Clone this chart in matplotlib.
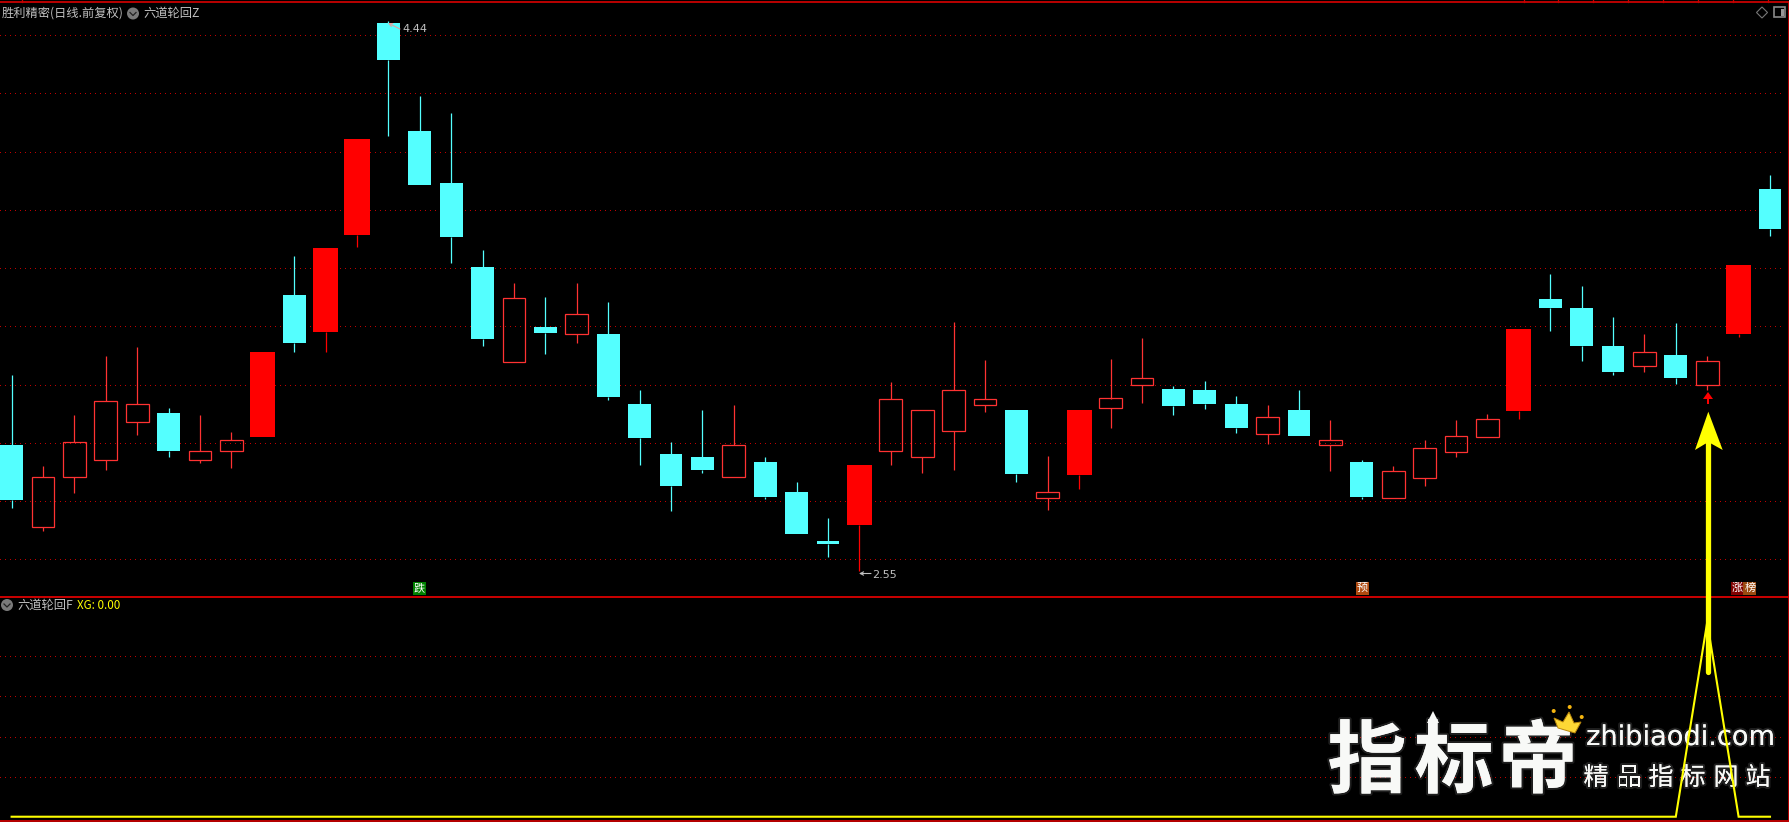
import matplotlib
matplotlib.use("Agg")
import matplotlib.pyplot as plt
from matplotlib.patches import Rectangle, Polygon, Circle
import matplotlib.patheffects as pe

plt.rcParams['font.family'] = ['Noto Sans CJK SC', 'DejaVu Sans']

# ---- data ----
highs = [3.221,2.911,3.087,3.287,3.319,3.111,3.087,3.028,3.303,3.632,3.660,4.032,4.440,4.181,4.123,3.652,3.538,3.491,3.538,3.472,
         3.170,2.993,3.103,3.119,2.942,2.856,2.730,2.915,3.197,3.103,3.405,3.275,3.103,2.946,3.103,3.279,3.350,3.185,3.201,3.150,
         3.119,3.170,3.068,2.930,2.911,2.999,3.068,3.089,3.381,3.570,3.530,3.421,3.362,3.401,3.287,3.601,3.911]
lows = [2.766,2.687,2.817,2.895,3.017,2.942,2.919,2.903,3.009,3.303,3.303,3.664,4.044,3.875,3.609,3.323,3.268,3.295,3.334,3.138,
        2.915,2.754,2.887,2.872,2.797,2.675,2.597,2.550,2.915,2.887,2.895,3.095,2.856,2.758,2.832,3.040,3.126,3.087,3.107,3.024,
        2.985,3.013,2.893,2.797,2.801,2.843,2.942,3.011,3.073,3.374,3.272,3.221,3.234,3.193,3.171,3.354,3.699]
body_tops = [2.981,2.872,2.993,3.134,3.123,3.091,2.962,3.001,3.303,3.499,3.660,4.032,4.432,4.060,3.883,3.593,3.487,3.389,3.432,3.362,
             3.123,2.950,2.942,2.981,2.923,2.821,2.652,2.915,3.142,3.103,3.170,3.142,3.103,2.821,3.103,3.142,3.213,3.174,3.170,3.123,
             3.079,3.103,3.001,2.923,2.892,2.971,3.012,3.070,3.381,3.483,3.452,3.323,3.301,3.291,3.272,3.601,3.860]
body_bottoms = [2.793,2.699,2.872,2.930,3.060,2.962,2.930,2.962,3.009,3.334,3.370,3.703,4.303,3.875,3.695,3.346,3.268,3.366,3.362,3.146,
                3.005,2.840,2.895,2.872,2.805,2.675,2.644,2.707,2.962,2.942,3.032,3.119,2.883,2.801,2.879,3.111,3.189,3.115,3.123,3.040,
                3.021,3.013,2.981,2.805,2.801,2.870,2.959,3.011,3.099,3.452,3.323,3.232,3.252,3.213,3.189,3.362,3.723]
# c = falling (cyan filled), h = rising (red hollow), r = strong rising (red filled)
kinds = ['c','h','h','h','h','c','h','h','r','c','r','r','c','c','c','c','h','c','h','c',
         'c','c','c','h','c','c','c','r','h','h','h','h','c','h','r','h','h','c','c','c',
         'h','c','h','c','h','h','h','h','r','c','c','c','h','c','h','r','c']
xg_values = [0.0]*54 + [1.0] + [0.0]*2
price_grid = [4.39,4.19,3.99,3.79,3.59,3.39,3.19,2.99,2.79,2.59]
xg_grid = [0.205,0.41,0.62,0.825]
high_label, low_label = "4.44", "2.55"
title_main, title_ind, title_sub, title_xg = "胜利精密(日线.前复权)", "六道轮回Z", "六道轮回F", "XG: 0.00"

W, H = 1790, 822
CYAN, RED, HOLLOW, FRAME, GRID = '#54ffff', '#ff0000', '#ff3232', '#c80000', '#c00000'
GRAY = '#c0c0c0'

fig = plt.figure(figsize=(W/100, H/100), dpi=100, facecolor='black')
def axes_px(x0, y0, x1, y1, **kw):
    return fig.add_axes([x0/W, 1-y1/H, (x1-x0)/W, (y1-y0)/H], **kw)

x_left, x_step = 11.6, 31.4
xlim = (-x_left/x_step, (1789-x_left)/x_step)
gx_end = (1785-x_left)/x_step

ax = axes_px(0, 2.5, 1789, 596.5, facecolor='none', zorder=1)
ax.set_xlim(*xlim); ax.set_ylim(2.462, 4.502)
DOTS = (0, (1.0, 5.0))
ax.hlines(price_grid, xlim[0], gx_end, colors=GRID, linewidth=0.72, linestyles=DOTS, zorder=1, antialiaseds=False)

n = len(highs)
for i in range(n):
    k = kinds[i]; top = body_tops[i]; bot = body_bottoms[i]
    col = CYAN if k == 'c' else (RED if k == 'r' else HOLLOW)
    ax.vlines(i, top, highs[i], colors=col, linewidth=0.9, zorder=2)
    ax.vlines(i, lows[i], bot, colors=col, linewidth=0.9, zorder=2)
    if k == 'h':
        ax.add_patch(Rectangle((i-0.36, bot), 0.72, top-bot, fill=False, edgecolor=col, linewidth=0.9, zorder=3))
    else:
        w = 0.73 if k == 'c' else 0.80
        ax.add_patch(Rectangle((i-w/2, bot), w, top-bot, facecolor=col, edgecolor='none', zorder=3))
ax.set_xticks([]); ax.set_yticks([])

ax2 = axes_px(0, 596.5, 1789, 821, facecolor='none', zorder=1)
ax2.set_xlim(*xlim); ax2.set_ylim(-0.022, 1.132)
ax2.hlines(xg_grid, xlim[0], gx_end, colors=GRID, linewidth=0.72, linestyles=DOTS, zorder=1, antialiaseds=False)
ax2.plot(range(n), xg_values, color='#ffff00', linewidth=1.5, zorder=4, solid_joinstyle='miter')
ax2.set_xticks([]); ax2.set_yticks([])

for a in (ax, ax2):
    for s in a.spines.values():
        s.set_color(FRAME); s.set_linewidth(1.3)
    a.spines['left'].set_visible(False)

# pixel overlay for screen furniture
ov = axes_px(0, 0, W, H, facecolor='none', zorder=5)
ov.set_xlim(0, W); ov.set_ylim(H, 0); ov.axis('off')

# top time ticks
for tx in [22, 1524, 1558, 1593, 1628, 1663, 1698, 1733, 1768]:
    ov.plot([tx, tx], [0, 2.5], color=FRAME, lw=0.9)

# headers
def icon(x, y):
    ov.add_patch(Circle((x, y), 6, facecolor='#7a7a7a', edgecolor='none'))
    ov.plot([x-3, x, x+3], [y-1, y+2, y-1], color='#222222', lw=0.9)

ov.text(2, 13.5, title_main, color=GRAY, fontsize=8.8, va='center', ha='left')
icon(133, 13.5)
ov.text(143, 13.5, title_ind, color=GRAY, fontsize=8.8, va='center', ha='left')
icon(7, 605)
ov.text(17, 605, title_sub, color=GRAY, fontsize=8.8, va='center', ha='left')
ov.text(77, 605, title_xg, color='#ffff00', fontsize=8.4, va='center', ha='left')

# right icons
ov.add_patch(Polygon([(1762, 7), (1767.5, 12.5), (1762, 18), (1756.5, 12.5)], fill=False, edgecolor='#777777', lw=0.8))
ov.add_patch(Rectangle((1774.5, 7.5), 11, 10, fill=False, edgecolor='#888888', lw=1.2))
ov.add_patch(Rectangle((1781, 9), 3.5, 7, facecolor='#999999', edgecolor='none'))

# extreme labels
ov.annotate('', xy=(388, 23), xytext=(400, 29), arrowprops=dict(arrowstyle='->', color='#e0a0a0', lw=0.8, mutation_scale=6, shrinkA=0, shrinkB=0))
ov.text(402, 28.5, high_label, color=GRAY, fontsize=8, va='center', ha='left', family='DejaVu Sans')
ov.annotate('', xy=(859, 573.5), xytext=(871, 573.5), arrowprops=dict(arrowstyle='->', color=GRAY, lw=0.8, mutation_scale=6, shrinkA=0, shrinkB=0))
ov.text(872, 574.5, low_label, color=GRAY, fontsize=8, va='center', ha='left', family='DejaVu Sans')

# signal labels
def badge(x0, x1, txt, fc):
    ov.add_patch(Rectangle((x0, 582), x1-x0, 13, facecolor=fc, edgecolor='none'))
    ov.text((x0+x1)/2, 588.3, txt, color='white', fontsize=8, ha='center', va='center')
badge(413, 426, "跌", '#008000')
badge(1356, 1369, "预", '#b04a10')
badge(1731, 1743.5, "涨", '#800000')
badge(1743.5, 1756, "榜", '#9a4a10')

# small red arrow and big yellow arrow
ov.add_patch(Polygon([(1708, 392), (1713, 399), (1709, 399), (1709, 404), (1707, 404), (1707, 399), (1703, 399)], facecolor=RED, edgecolor='none'))
ov.plot([1708.3, 1708.3], [443, 671.5], color='#ffff00', lw=3.8, solid_capstyle='round')
ov.add_patch(Polygon([(1708.3, 411.7), (1722.7, 450), (1708.3, 442), (1695, 450)], facecolor='#ffff00', edgecolor='none'))

# watermark, below the XG line
wm = '#f8f9f7'
glow = [pe.withStroke(linewidth=3, foreground=(1, 1, 1, 0.12))]
def wm_text(x, y, s, size, **kw):
    ax2.text(x, y, s, color=wm, fontsize=size, ha='center', va='center', transform=ov.transData,
             zorder=3, clip_on=False, path_effects=glow, **kw)
for cx, ch in zip([1367, 1454, 1538], "指标帝"):
    wm_text(cx, 763, ch, 57, fontweight='bold')
ax2.add_patch(Polygon([(1433, 711), (1439, 723), (1427, 723)], facecolor=wm, edgecolor='none', transform=ov.transData, zorder=3))
wm_text(1681, 738, "zhibiaodi.com", 19.6, family='DejaVu Sans')
for cx, ch in zip([1596, 1629, 1661, 1693, 1726, 1758], "精品指标网站"):
    wm_text(cx, 778, ch, 18)
ax2.add_patch(Polygon([(1554, 718), (1563, 722), (1569, 712), (1574, 723), (1581, 722), (1575, 733), (1558, 728)],
                      facecolor='#fdd835', edgecolor='#b8860b', lw=0.7, transform=ov.transData, zorder=3))
for cx, cy in [(1553.7, 711), (1569.7, 707), (1581.7, 717)]:
    ax2.add_patch(Circle((cx, cy), 2, facecolor='#f5b50f', edgecolor='none', transform=ov.transData, zorder=3))

fig.savefig('out.png', dpi=100, facecolor='black')
